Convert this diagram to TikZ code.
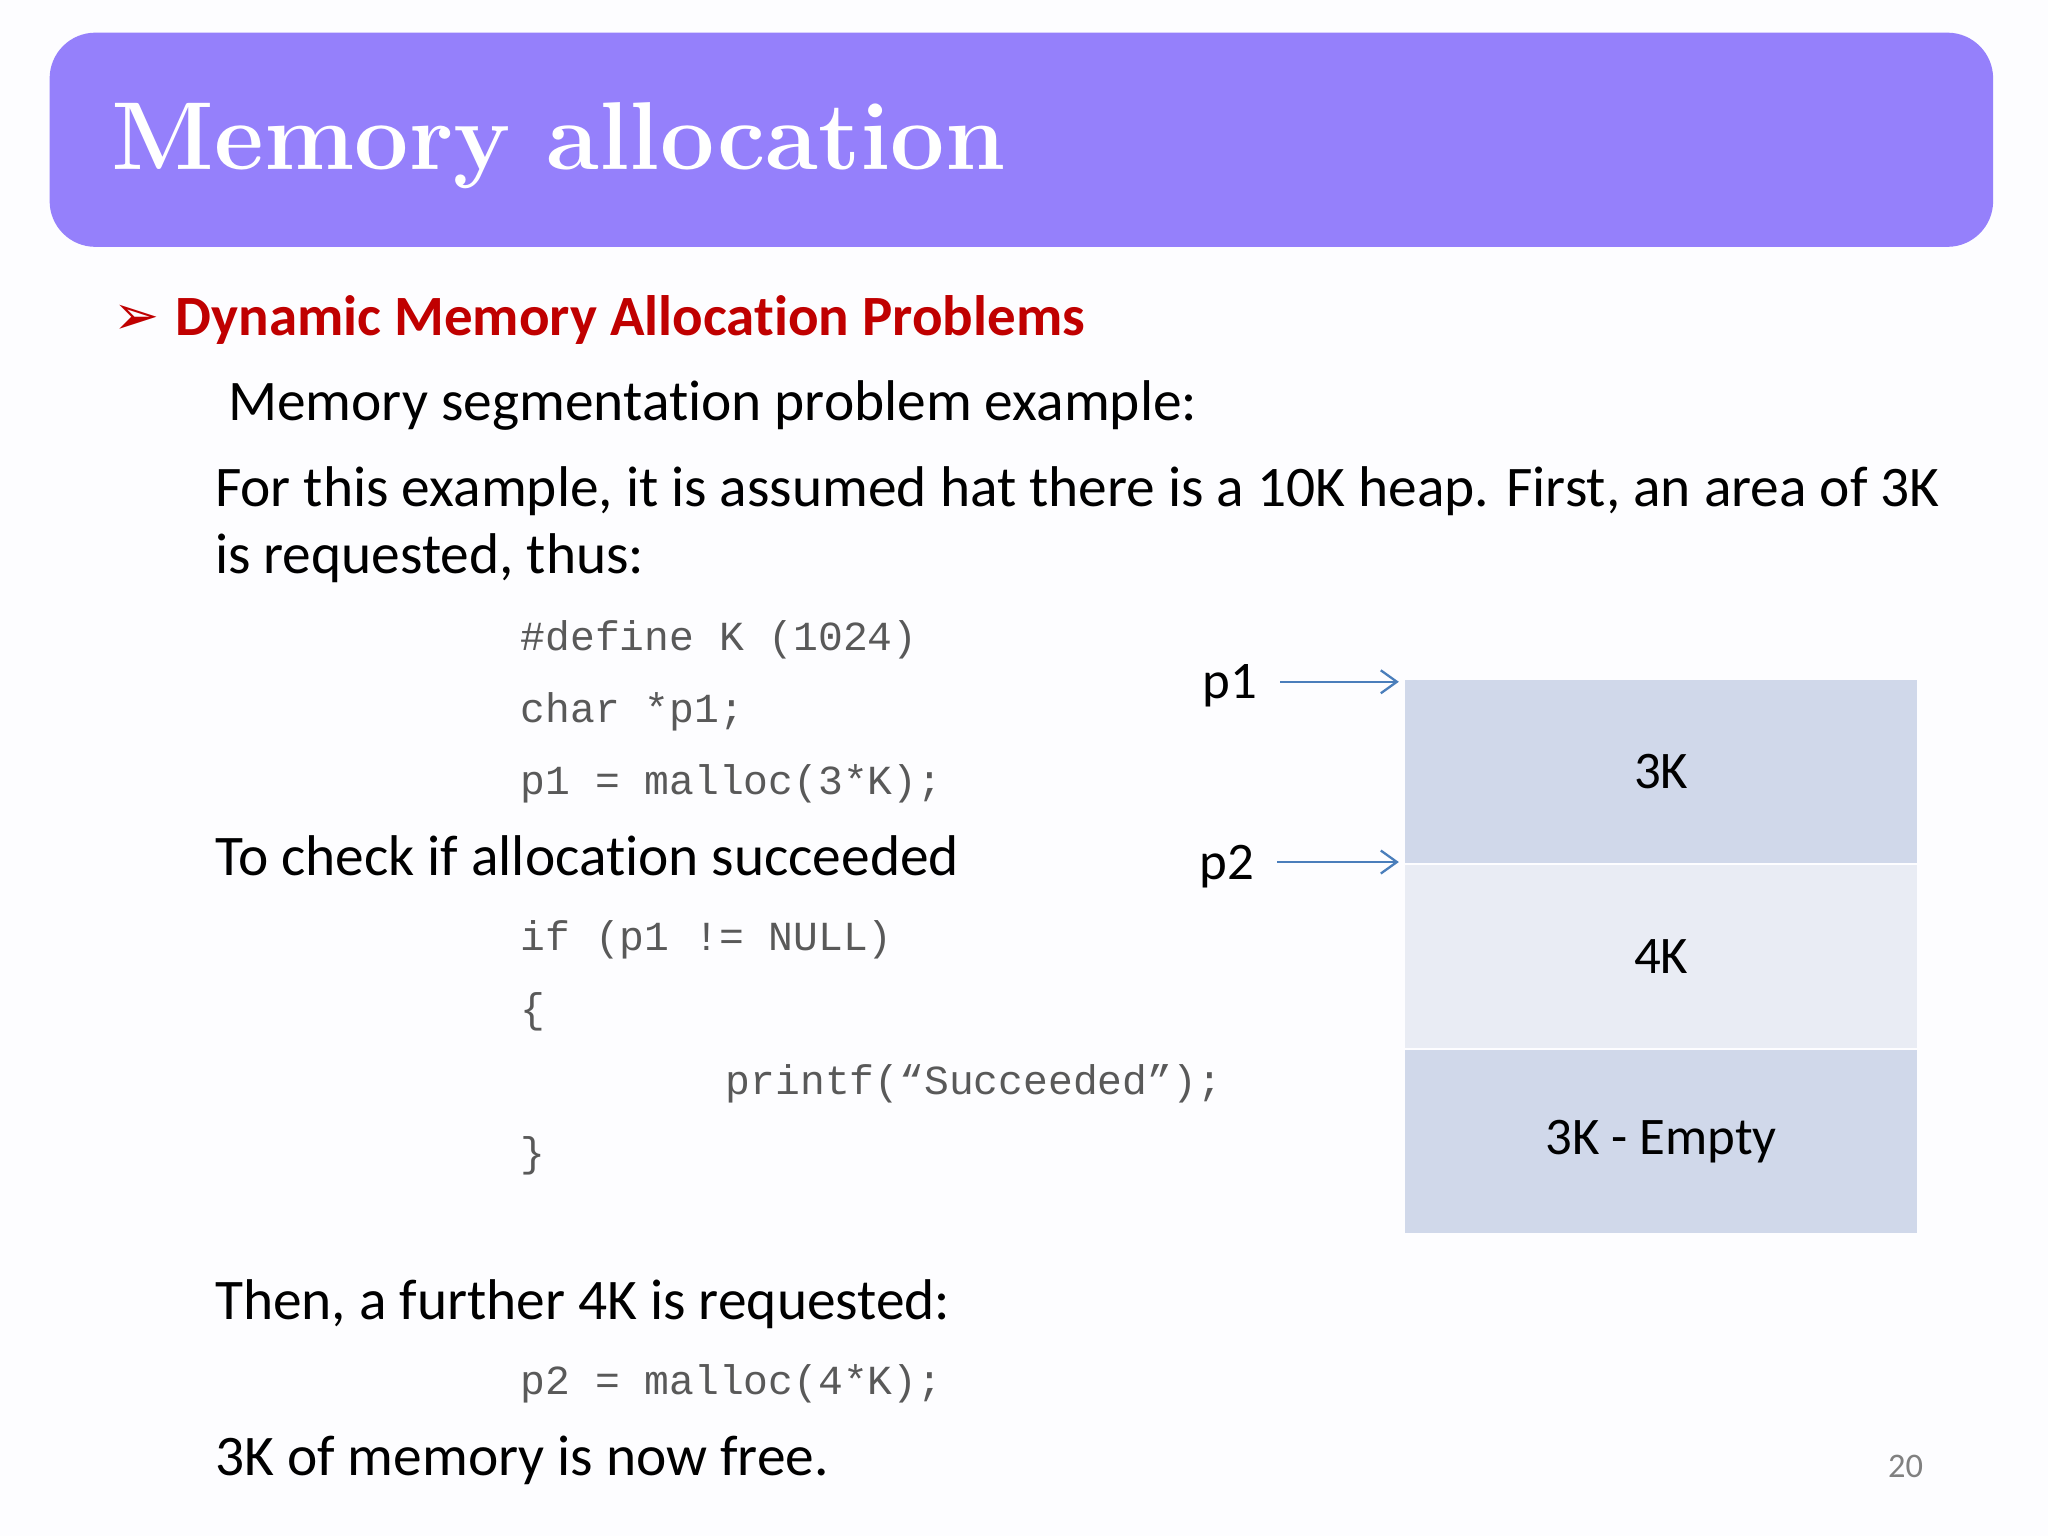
\documentclass[tikz,border=0pt]{standalone}
\usepackage{fontspec}
\setmainfont[Ligatures={NoCommon}]{Carlito}
\setmonofont{Liberation Mono}
\newfontfamily\titlefont{Latin Modern Roman}
\newfontfamily\symfont{DejaVu Sans}
\usetikzlibrary{arrows.meta}
\definecolor{hdr}{HTML}{9580FB}
\definecolor{boxa}{HTML}{D0D8EA}
\definecolor{boxb}{HTML}{E9ECF4}
\definecolor{redt}{HTML}{C00000}
\definecolor{codeg}{HTML}{595959}
\definecolor{arr}{HTML}{4A7EBB}
\tikzset{
 body/.style={anchor=base west,inner sep=0pt,font=\fontsize{12.5}{15}\selectfont},
 code/.style={anchor=base west,inner sep=0pt,text=codeg,font=\ttfamily\fontsize{9}{11}\selectfont},
 mem/.style={draw=none,minimum width=3.92cm,minimum height=1.4cm,inner sep=0pt,font=\fontsize{11.5}{14}\selectfont},
 ptr/.style={draw=arr,-{Straight Barb[length=3.5pt,width=5pt]},line width=0.5pt}
}
\begin{document}
\begin{tikzpicture}[x=0.01cm,y=-0.01cm]
\useasboundingbox (0,0) rectangle (1568,1176);
\fill[white!97!blue!20] (0,0) rectangle (1568,1176);
\fill[hdr,rounded corners=0.35cm] (38,25) rectangle (1526,189);
\node[anchor=base west,inner sep=0pt,text=white,font=\titlefont\bfseries\fontsize{21}{25}\selectfont] (title) at (85,130) {Memory allocation};
\node[anchor=base west,inner sep=0pt,text=redt,font=\symfont\fontsize{12}{14}\selectfont] (bul) at (86,256) {➢};
\node[body,text=redt,font=\bfseries\fontsize{12.4}{15}\selectfont] (sub) at (134,257) {Dynamic Memory Allocation Problems};
\node[body] (t1) at (174,322) {Memory segmentation problem example:};
\node[body] (t2) at (164,388) {For this example, it is assumed hat there is a 10K heap. First, an area of 3K};
\node[body] (t3) at (164,439) {is requested, thus:};
\node[code] (c1) at (398,498) {\#define K (1024)};
\node[code] (c2) at (398,553) {char *p1;};
\node[code] (c3) at (398,608) {p1 = malloc(3*K);};
\node[body] (t4) at (164,670) {To check if allocation succeeded};
\node[code] (c4) at (398,728) {if (p1 != NULL)};
\node[code] (c5) at (398,783) {\{};
\node[code] (c6) at (555,838) {printf(“Succeeded”);};
\node[code] (c7) at (398,893) {\}};
\node[body] (t5) at (164,1010) {Then, a further 4K is requested:};
\node[code] (c8) at (398,1068) {p2 = malloc(4*K);};
\node[body] (t6) at (164,1130) {3K of memory is now free.};
\node[anchor=base east,inner sep=0pt,text=gray,font=\fontsize{7.5}{8}\selectfont] (pg) at (1473,1131) {20};
\node[mem,fill=boxa,anchor=north west] (m1) at (1075,520) {3K};
\node[mem,fill=boxb,anchor=north] (m2) at (m1.south) {4K};
\node[mem,fill=boxa,anchor=north] (m3) at (m2.south) {3K - Empty};
\node[body,font=\fontsize{11.5}{14}\selectfont] (p1) at (920,535) {p1};
\node[body,font=\fontsize{11.5}{14}\selectfont] (p2) at (918,673) {p2};
\coordinate (a1) at (980,522);
\coordinate (a2) at (978,660);
\draw[ptr] (a1) -- ([xshift=-0.04cm]m1.north west |- a1);
\draw[ptr] (a2) -- ([xshift=-0.04cm]m2.north west |- a2);
\end{tikzpicture}
\end{document}
